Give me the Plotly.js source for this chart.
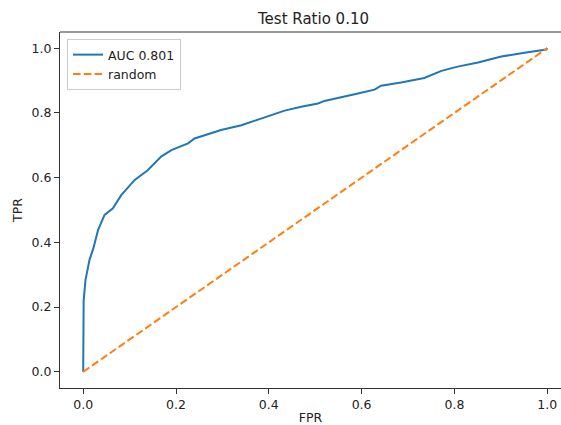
<!DOCTYPE html>
<html>
<head>
<meta charset="utf-8">
<script src="https://cdn.plot.ly/plotly-3.0.1.min.js"></script>
<style>html,body{margin:0;padding:0;background:#fff;}#chart{width:561px;height:425px;}</style>
</head>
<body>
<div id="chart"></div>
<script>
const fpr = [0, 0, 0.001, 0.005, 0.0136, 0.022, 0.032, 0.046, 0.064, 0.082, 0.111, 0.139, 0.168, 0.190, 0.226, 0.240, 0.283, 0.297, 0.341, 0.384, 0.434, 0.470, 0.506, 0.520, 0.570, 0.592, 0.628, 0.642, 0.685, 0.692, 0.735, 0.772, 0.807, 0.851, 0.901, 0.951, 0.980, 0.998, 1.0];
const tpr = [0, 0.17, 0.22, 0.284, 0.346, 0.382, 0.438, 0.485, 0.505, 0.546, 0.593, 0.623, 0.665, 0.685, 0.706, 0.721, 0.742, 0.747, 0.762, 0.783, 0.807, 0.819, 0.829, 0.837, 0.852, 0.860, 0.872, 0.884, 0.894, 0.896, 0.908, 0.930, 0.943, 0.956, 0.974, 0.986, 0.993, 0.996, 1.0];
const randX = [0, 1];
const randY = [0, 1];
const xTicks = [0, 0.2, 0.4, 0.6, 0.8, 1.0];
const xTickText = ['0.0', '0.2', '0.4', '0.6', '0.8', '1.0'];
const yTicks = [0, 0.2, 0.4, 0.6, 0.8, 1.0];
const yTickText = ['0.0', '0.2', '0.4', '0.6', '0.8', '1.0'];

const font = {family: 'DejaVu Sans', size: 12.5, color: '#222'};
const traces = [
  {x: fpr, y: tpr, mode: 'lines', name: 'AUC 0.801', line: {color: '#1f77b4', width: 2}},
  {x: randX, y: randY, mode: 'lines', name: 'random', line: {color: '#ff7f0e', width: 2, dash: '7.5px,3.3px'}}
];
const layout = {
  width: 561, height: 425,
  margin: {l: 60, r: 0, t: 32, b: 37, pad: 0},
  paper_bgcolor: '#fff', plot_bgcolor: '#fff',
  font: font,
  title: {text: 'Test Ratio 0.10', font: {family: 'DejaVu Sans', size: 15, color: '#222'}, xref: 'container', x: 313.5/561, xanchor: 'center', yref: 'container', y: 1 - 19/425, yanchor: 'middle'},
  xaxis: {range: [-0.05, -0.05 + 501/464], tickvals: xTicks, ticktext: xTickText, showgrid: false, zeroline: false,
    showline: true, linecolor: '#333', linewidth: 1, ticks: 'outside', ticklen: 5, tickwidth: 1, tickcolor: '#333',
    title: {text: 'FPR', font: font, standoff: 4}},
  yaxis: {range: [-0.05, 1.05], tickvals: yTicks, ticktext: yTickText, showgrid: false, zeroline: false,
    showline: true, linecolor: '#333', linewidth: 1, ticks: 'outside', ticklen: 5, tickwidth: 1, tickcolor: '#333',
    title: {text: 'TPR', font: font, standoff: 6}},
  shapes: [{type: 'line', xref: 'paper', yref: 'paper', x0: 0, x1: 1, y0: 1, y1: 1, line: {color: '#333', width: 1}}],
  legend: {x: 7/501, y: (388 - 39) / 356, xanchor: 'left', yanchor: 'top', bgcolor: 'rgba(255,255,255,0.8)', bordercolor: '#ccc', borderwidth: 1, font: font, itemwidth: 30, tracegroupgap: 0},
  showlegend: true
};
Plotly.newPlot('chart', traces, layout, {displayModeBar: false, staticPlot: true});
</script>
</body>
</html>
